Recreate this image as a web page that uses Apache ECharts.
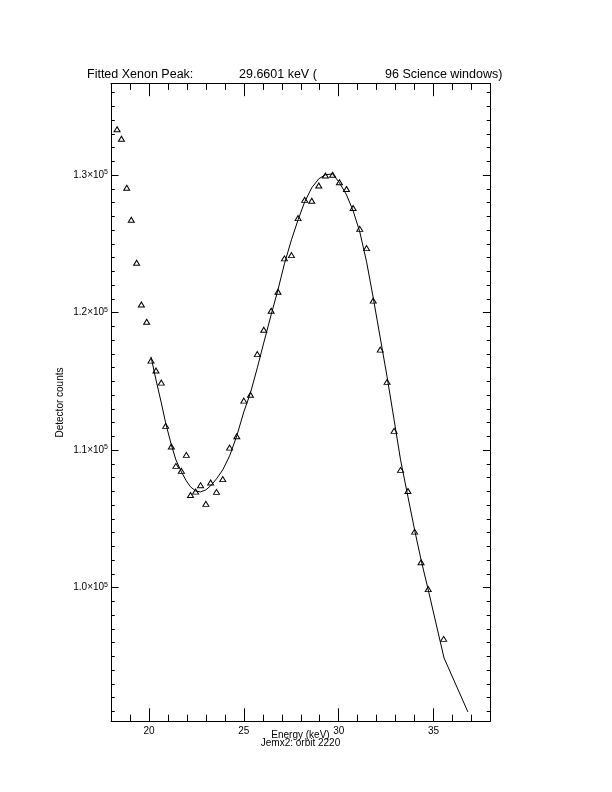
<!DOCTYPE html>
<html>
<head>
<meta charset="utf-8">
<script src="https://cdn.jsdelivr.net/npm/echarts@6/dist/echarts.min.js"></script>
<style>
html,body{margin:0;padding:0;background:#fff;}
#chart{width:612px;height:792px;}
</style>
</head>
<body>
<div id="chart"></div>
<script>
// Measured data points (triangles)
const dataEnergy = [18.32,18.55,18.83,19.07,19.35,19.60,19.88,20.11,20.37,20.65,20.88,21.18,21.42,21.71,21.97,22.19,22.46,22.72,23.00,23.25,23.56,23.89,24.25,24.63,25.00,25.35,25.71,26.05,26.44,26.80,27.14,27.51,27.86,28.21,28.58,28.95,29.30,29.68,30.04,30.41,30.76,31.11,31.47,31.82,32.19,32.55,32.92,33.26,33.65,34.00,34.34,34.72,35.53];
const dataCounts = [133330,132640,129080,126750,123620,120590,119330,116510,115790,114910,111760,110260,108850,108490,109650,106740,106980,107450,106090,107640,106960,107890,110180,111010,113600,114020,116980,118750,120130,121510,123940,124180,126870,128200,128130,129240,129970,130020,129480,128990,127610,126090,124690,120870,117310,114960,111400,108560,107030,104070,101850,99890,96270];

// Fitted model curve
const fitEnergy = [20.11,20.37,20.65,20.88,21.18,21.42,21.71,21.97,22.19,22.46,22.72,23.00,23.25,23.56,23.89,24.25,24.63,25.00,25.35,25.71,26.05,26.44,26.80,27.14,27.51,27.86,28.21,28.58,28.95,29.30,29.68,30.04,30.41,30.76,31.11,31.47,31.82,32.19,32.55,32.92,33.26,33.65,34.00,34.34,34.72,35.55,36.81];
const fitCounts = [116780,115110,113440,111980,110380,109290,108420,107760,107330,107030,106960,107110,107400,107910,108560,109580,111040,112780,114160,115980,117800,119840,121660,123550,125290,126750,128060,129080,129730,130020,130090,129440,128570,127400,125880,123690,121070,118160,115330,112200,109290,106600,104200,102020,99830,94890,90960];

// Axis ticks and labels
const xMajorTicks = [20,25,30,35];
const xMinorTicks = [19,21,22,23,24,26,27,28,29,31,32,33,34,36,37];
const yMajorTicks = [100000,110000,120000,130000];
const yMajorLabels = ['1.0','1.1','1.2','1.3'];
const yMinorTicks = [91000,92000,93000,94000,95000,96000,97000,98000,99000,101000,102000,103000,104000,105000,106000,107000,108000,109000,111000,112000,113000,114000,115000,116000,117000,118000,119000,121000,122000,123000,124000,125000,126000,127000,128000,129000,131000,132000,133000,134000,135000,136000];

const titleParts = ['Fitted Xenon Peak:', '29.6601 keV (', '96 Science windows)'];
const xTitle = 'Energy (keV)';
const xSubTitle = 'Jemx2: orbit 2220';
const yTitle = 'Detector counts';

const FONT = "'Liberation Sans', Arial, sans-serif";
const X_MIN = 18, X_MAX = 38, Y_MIN = 90300, Y_MAX = 136660;

const chart = echarts.init(document.getElementById('chart'), null, {renderer:'canvas'});

function xAxisDef(pos, ticks, len, showLine, showLabel) {
  return {
    type:'value', position:pos, min:X_MIN, max:X_MAX, gridIndex:0,
    axisLine:{show:showLine, lineStyle:{color:'#000', width:1}},
    axisTick:{show:true, inside:true, length:len, customValues:ticks, lineStyle:{color:'#000', width:1}},
    axisLabel:{show:showLabel, customValues:ticks, color:'#000', fontSize:10, fontFamily:FONT, margin:5},
    splitLine:{show:false}
  };
}
function yAxisDef(pos, ticks, len, showLine, showLabel) {
  return {
    type:'value', position:pos, min:Y_MIN, max:Y_MAX, gridIndex:0,
    axisLine:{show:showLine, lineStyle:{color:'#000', width:1}},
    axisTick:{show:true, inside:true, length:len, customValues:ticks, lineStyle:{color:'#000', width:1}},
    axisLabel:{show:showLabel, customValues:ticks, margin:3, fontFamily:FONT,
      formatter: function(v){
        const i = yMajorTicks.indexOf(v);
        return '{m|' + (i >= 0 ? yMajorLabels[i] : '') + '×10}{e|5}';
      },
      rich:{
        m:{fontSize:10, color:'#000', fontFamily:FONT},
        e:{fontSize:7, color:'#000', fontFamily:FONT, padding:[0,0,6,0]}
      }
    },
    splitLine:{show:false}
  };
}

const scatterData = dataEnergy.map((e,i)=>[e, dataCounts[i]]);
const fitData = fitEnergy.map((e,i)=>[e, fitCounts[i]]);

chart.setOption({
  animation:false,
  backgroundColor:'#fff',
  grid:{left:111, right:121.5, top:83.5, bottom:71, containLabel:false},
  xAxis:[
    xAxisDef('bottom', xMajorTicks, 12.7, true, true),
    xAxisDef('bottom', xMinorTicks, 6.4, false, false),
    xAxisDef('top', xMajorTicks, 12.7, true, false),
    xAxisDef('top', xMinorTicks, 6.4, false, false)
  ],
  yAxis:[
    yAxisDef('left', yMajorTicks, 7.6, true, true),
    yAxisDef('left', yMinorTicks, 3.8, false, false),
    yAxisDef('right', yMajorTicks, 7.6, true, false),
    yAxisDef('right', yMinorTicks, 3.8, false, false)
  ],
  series:[
    {
      type:'line', xAxisIndex:0, yAxisIndex:0, data:fitData,
      showSymbol:false, symbol:'none', smooth:false,
      lineStyle:{color:'#000', width:1}, clip:true, z:2
    },
    {
      type:'scatter', xAxisIndex:0, yAxisIndex:0, data:scatterData,
      symbol:'triangle', symbolSize:[6,5],
      itemStyle:{color:'rgba(0,0,0,0)', borderColor:'#000', borderWidth:1, opacity:1},
      z:3
    }
  ],
  graphic:[
    {type:'text', x:87, y:75, style:{text:titleParts[0], font:'12.5px ' + FONT, fill:'#000', align:'left', verticalAlign:'middle'}},
    {type:'text', x:239, y:75, style:{text:titleParts[1], font:'12.5px ' + FONT, fill:'#000', align:'left', verticalAlign:'middle'}},
    {type:'text', x:385, y:75, style:{text:titleParts[2], font:'12.5px ' + FONT, fill:'#000', align:'left', verticalAlign:'middle'}},
    {type:'text', x:300.5, y:735.5, style:{text:xTitle, font:'10px ' + FONT, fill:'#000', align:'center', verticalAlign:'middle'}},
    {type:'text', x:300.5, y:743.5, style:{text:xSubTitle, font:'10px ' + FONT, fill:'#000', align:'center', verticalAlign:'middle'}},
    {type:'text', x:60.5, y:402.5, rotation:Math.PI/2, style:{text:yTitle, font:'10px ' + FONT, fill:'#000', align:'center', verticalAlign:'middle'}}
  ]
});
</script>
</body>
</html>
